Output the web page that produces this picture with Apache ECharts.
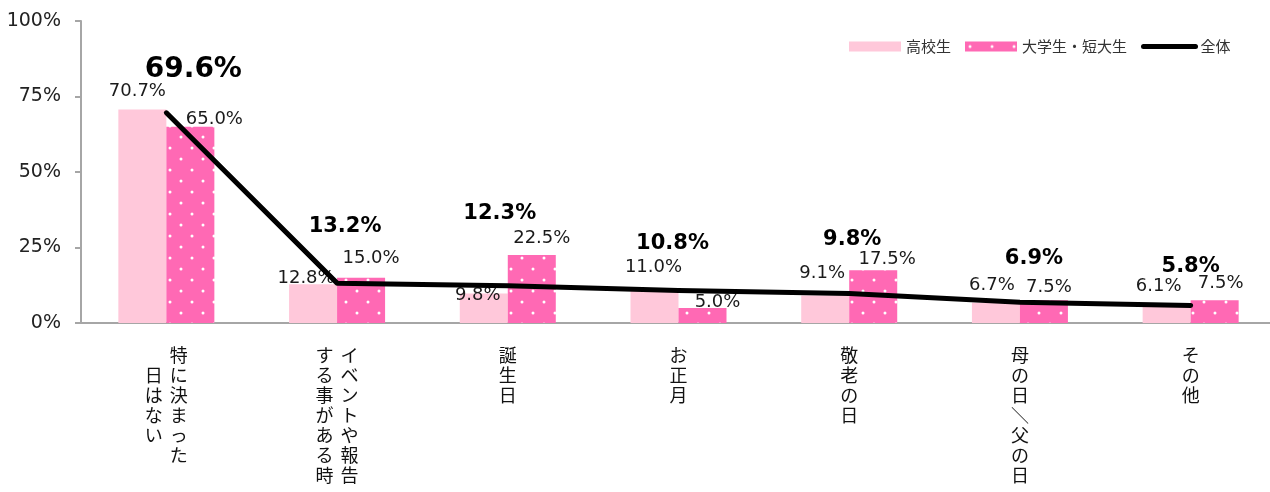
<!DOCTYPE html>
<html>
<head>
<meta charset="utf-8">
<script src="https://cdn.jsdelivr.net/npm/echarts@6/dist/echarts.min.js"></script>
<style>
html, body { margin: 0; padding: 0; background: #fff; }
#chart { width: 1270px; height: 492px; }
</style>
</head>
<body>
<div id="chart"></div>
<script>
// '\n' marks where Excel wrapped the label into a second vertical column
var categories = ['特に決まった\n日はない', 'イベントや報告\nする事がある時', '誕生日', 'お正月', '敬老の日', '母の日/父の日', 'その他'];
var highSchool = [70.7, 12.8, 9.8, 11.0, 9.1, 6.7, 6.1];   // 高校生
var university = [65.0, 15.0, 22.5, 5.0, 17.5, 7.5, 7.5];  // 大学生・短大生
var total = [69.6, 13.2, 12.3, 10.8, 9.8, 6.9, 5.8];       // 全体
var yTicks = [0, 25, 50, 75, 100];

// label nudges [dx, dy], the labels were dragged by hand in the original
var hsLabelOffset = [[-5, -4], [-7, 8], [-6, 16], [-1, -8], [-3, -8], [-4, -3], [-8, -4]];
var uniLabelOffset = [[24, 7], [10, -5], [10, -3], [15, 8], [14, 3], [5, 1], [6, -3]];
var totalLabelOffset = [[27, -24], [8, -41], [-8, -56], [-6, -31], [3, -38], [14, -28], [0, -23]];

var NUM_FONT = 'DejaVu Sans';
var JP_FONT = '"Noto Sans CJK JP", "Noto Sans", sans-serif';

// hot pink with white dots, like the excel fill
function dotPattern() {
	var c = document.createElement('canvas');
	c.width = 22;
	c.height = 22;
	var ctx = c.getContext('2d');
	ctx.fillStyle = '#ff69b4';
	ctx.fillRect(0, 0, 22, 22);
	ctx.fillStyle = '#fff';
	[[5, 5], [16, 16]].forEach(function (p) {
		ctx.beginPath();
		ctx.arc(p[0], p[1], 1.5, 0, Math.PI * 2);
		ctx.fill();
	});
	return c;
}

// vertical writing: columns go right to left, each column centred vertically
function verticalLabel(text) {
	var cols = text.split('\n').map(function (s) {
		return Array.from(s.replace('/', '＼'));
	});
	var rows = Math.max.apply(null, cols.map(function (c) { return c.length; }));
	var lines = [];
	for (var r = 0; r < rows; r++) {
		var line = '';
		for (var k = cols.length - 1; k >= 0; k--) {
			var pad = Math.floor((rows - cols[k].length) / 2);
			var ch = cols[k][r - pad];
			line += '{c|' + (ch || '　') + '}';
		}
		lines.push(line);
	}
	return lines.join('\n');
}

var pct = function (p) { return p.value.toFixed(1) + '%'; };

var myChart = echarts.init(document.getElementById('chart'));
var pink = { image: dotPattern(), repeat: 'repeat' };

myChart.setOption({
	backgroundColor: '#fff',
	animation: false,
	legend: {
		left: 844,
		top: 34,
		itemWidth: 52,
		itemHeight: 10,
		itemGap: 14,
		textStyle: { fontFamily: JP_FONT, fontSize: 15, color: '#333' },
		data: [
			{ name: '高校生', icon: 'rect' },
			{ name: '大学生・短大生', icon: 'rect' },
			{ name: '全体', itemStyle: { opacity: 0 }, lineStyle: { width: 5, cap: 'round' } }
		]
	},
	grid: { left: 81, right: -6, top: 21, bottom: 169, outerBoundsMode: 'none' },
	xAxis: {
		type: 'category',
		data: categories,
		axisTick: { show: false },
		axisLine: { lineStyle: { color: '#a6a6a6', width: 2 } },
		axisLabel: {
			interval: 0,
			margin: 22,
			formatter: verticalLabel,
			rich: {
				c: { width: 25, align: 'center', fontSize: 18, lineHeight: 20, fontFamily: JP_FONT, color: '#111' }
			}
		}
	},
	yAxis: {
		type: 'value',
		min: yTicks[0],
		max: yTicks[yTicks.length - 1],
		interval: yTicks[1] - yTicks[0],
		splitLine: { show: false },
		axisLine: { show: true, lineStyle: { color: '#a6a6a6', width: 2 } },
		axisTick: { show: true, length: 6, lineStyle: { color: '#a6a6a6', width: 2 } },
		axisLabel: { formatter: '{value}%', margin: 20, fontSize: 19, fontFamily: NUM_FONT, color: '#222' }
	},
	series: [{
		name: '高校生',
		type: 'bar',
		barWidth: 48,
		barGap: '0%',
		itemStyle: { color: '#ffc8da' },
		label: { show: true, position: 'top', distance: 5, formatter: pct, fontSize: 18, fontFamily: NUM_FONT, color: '#1a1a1a' },
		data: highSchool.map(function (v, i) {
			return { value: v, label: { offset: hsLabelOffset[i] } };
		})
	}, {
		name: '大学生・短大生',
		type: 'bar',
		barWidth: 48,
		barGap: '0%',
		itemStyle: { color: pink },
		label: { show: true, position: 'top', distance: 5, formatter: pct, fontSize: 18, fontFamily: NUM_FONT, color: '#1a1a1a' },
		data: university.map(function (v, i) {
			return { value: v, label: { offset: uniLabelOffset[i] } };
		})
	}, {
		name: '全体',
		type: 'line',
		z: 5,
		symbol: 'circle',
		symbolSize: 1,
		itemStyle: { color: '#000' },
		lineStyle: { color: '#000', width: 5, cap: 'round', join: 'round' },
		label: { show: true, position: 'top', distance: 5, formatter: pct, fontSize: 21, fontWeight: 'bold', fontFamily: NUM_FONT, color: '#000' },
		data: total.map(function (v, i) {
			var lab = { offset: totalLabelOffset[i] };
			if (i === 0) lab.fontSize = 28;
			return { value: v, label: lab };
		})
	}]
});
</script>
</body>
</html>
